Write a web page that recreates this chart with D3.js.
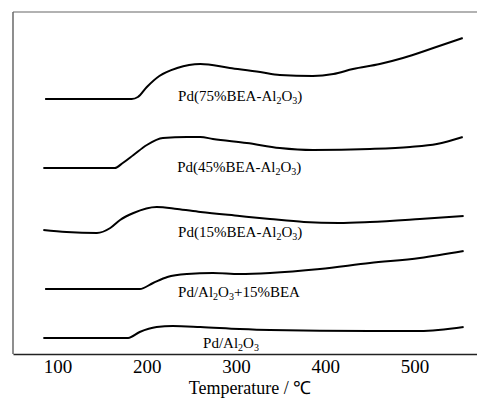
<!DOCTYPE html>
<html>
<head>
<meta charset="utf-8">
<script src="https://cdn.jsdelivr.net/npm/d3@7"></script>
<style>
  html, body { margin: 0; padding: 0; background: #fff; }
  svg { display: block; }
</style>
</head>
<body>
<svg id="chart" width="477" height="398"></svg>
<script>
// ---- data (temperature in °C, signal in arbitrary units) ----
const tempTicks = [100, 200, 300, 400, 500];

const s75T = [86, 135, 183, 190, 200, 214, 234, 260, 293, 327, 349, 386, 409, 431, 461, 487, 521, 554];
const s75V = [255, 255, 255, 257, 267, 278, 286, 290, 286, 282, 279, 278, 280, 285, 290, 296, 306, 316];

const s45T = [84, 125, 164, 173, 185, 200, 218, 245, 260, 274, 312, 349, 386, 450, 495, 525, 554];
const s45V = [186, 186, 186, 191, 199, 209, 216, 217, 217, 215, 211, 206, 204, 205, 207, 210, 217];

const s15T = [84, 110, 144, 159, 170, 185, 211, 234, 260, 304, 338, 376, 415, 450, 506, 555];
const s15V = [124, 122, 121, 126, 134, 141, 147, 145, 142, 138, 135, 132, 131, 132, 135, 138];

const mixT = [86, 140, 192, 207, 223, 245, 274, 304, 338, 394, 450, 506, 555];
const mixV = [65, 65, 65, 71, 77, 80, 81, 80, 81, 85, 91, 96, 103];

const alT = [84, 130, 179, 192, 211, 229, 260, 304, 338, 450, 506, 555];
const alV = [16, 16, 16, 22, 27, 28, 27, 25, 24, 23, 23, 27];

const seriesNames = ["Pd(75%BEA-Al2O3)", "Pd(45%BEA-Al2O3)", "Pd(15%BEA-Al2O3)", "Pd/Al2O3+15%BEA", "Pd/Al2O3"];
// label anchor positions in data units
const labelT = [235, 234, 235, 235, 263];
const labelV = [253, 182, 117, 57, 6];

// ---- layout ----
const FONT = "Liberation Serif";
const svg = d3.select("#chart");
const mLeft = 13, mRight = 477, mTop = 12, mBottom = 354;

const x = d3.scaleLinear().domain([50, 570]).range([mLeft, mRight]);
const y = d3.scaleLinear().domain([0, 342]).range([mBottom, mTop]);

// frame: left and top lines
svg.append("line").attr("x1", mLeft).attr("x2", mLeft).attr("y1", mTop).attr("y2", mBottom)
  .attr("stroke", "#444").attr("stroke-width", 1.2);
svg.append("line").attr("x1", mLeft).attr("x2", mRight).attr("y1", mTop).attr("y2", mTop)
  .attr("stroke", "#666").attr("stroke-width", 1.2);

// bottom axis
const xAxis = d3.axisBottom(x).tickValues(tempTicks).tickSize(0).tickPadding(6).tickFormat(d3.format("d"));
const gx = svg.append("g").attr("transform", `translate(0,${mBottom})`).call(xAxis)
  .attr("font-family", FONT).attr("font-size", 19);
gx.select(".domain").attr("stroke", "#222").attr("stroke-width", 1.5);
gx.selectAll("text").attr("fill", "#000").attr("font-family", FONT).attr("font-size", 19);

svg.append("text").attr("x", 250).attr("y", 394).attr("text-anchor", "middle")
  .attr("font-family", FONT).attr("font-size", 18).attr("fill", "#000")
  .text("Temperature / ℃");

// curves
const series = [
  d3.zip(s75T, s75V), d3.zip(s45T, s45V), d3.zip(s15T, s15V), d3.zip(mixT, mixV), d3.zip(alT, alV)
];
const line = d3.line().x(d => x(d[0])).y(d => y(d[1])).curve(d3.curveMonotoneX);
svg.selectAll("path.curve").data(series).enter().append("path")
  .attr("class", "curve").attr("d", line)
  .attr("fill", "none").attr("stroke", "#000").attr("stroke-width", 2)
  .attr("stroke-linejoin", "round");

// labels with subscripts
function addLabel(name, tx, vy) {
  const t = svg.append("text").attr("x", x(tx)).attr("y", y(vy))
    .attr("font-family", FONT).attr("font-size", 15).attr("fill", "#000");
  const idx = name.indexOf("Al2O3");
  if (idx < 0) { t.text(name); return; }
  const before = name.slice(0, idx);
  const after = name.slice(idx + 5);
  t.append("tspan").text(before + "Al");
  t.append("tspan").attr("dy", 3).attr("font-size", 10).text("2");
  t.append("tspan").attr("dy", -3).text("O");
  t.append("tspan").attr("dy", 3).attr("font-size", 10).text("3");
  t.append("tspan").attr("dy", -3).text(after);
}
seriesNames.forEach((n, i) => addLabel(n, labelT[i], labelV[i]));
</script>
</body>
</html>
